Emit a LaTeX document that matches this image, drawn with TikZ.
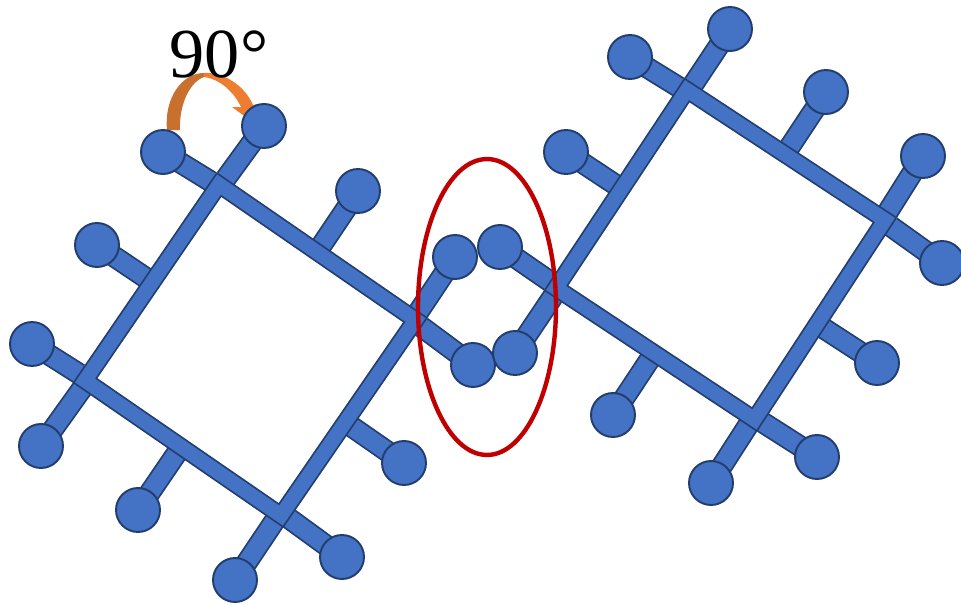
\documentclass[tikz,border=0pt]{standalone}
\usepackage{fontspec}
\setmainfont{Liberation Serif}
\usetikzlibrary{backgrounds,shapes.geometric}
\definecolor{ballblue}{HTML}{4472C4}
\definecolor{edgeblue}{HTML}{223E6E}
\definecolor{ringred}{HTML}{C00000}
\definecolor{arcorange}{HTML}{ED7D31}
\definecolor{arcbrown}{HTML}{C8702E}
\begin{document}
\begin{tikzpicture}[x=0.02cm, y=-0.02cm,
        roundnode/.style={circle, draw=edgeblue, fill=ballblue, line width=1.1pt, minimum size=0.88cm, inner sep=0pt},
        stubline/.style={draw=edgeblue, line width=1pt, double=ballblue, double distance=10.4pt, shorten <=-5pt},
        frameline/.style={draw=edgeblue, line width=1pt, double=ballblue, double distance=8.2pt, line join=miter},
        ]
                \useasboundingbox (0,0) rectangle (961,605);

                \node[roundnode]  at(163,152) (a1) {};
                \node[roundnode]  at(473,365) (a2) {};
                \node[roundnode]  at(264,126) (b1) {};
                \node[roundnode]  at(41,446) (b2) {};
                \node[roundnode]  at(32,344) (c1) {};
                \node[roundnode]  at(342,557) (c2) {};
                \node[roundnode]  at(455,257) (d1) {};
                \node[roundnode]  at(235,580) (d2) {};
                \node[roundnode]  at(358,191) (e1) {};
                \node[roundnode]  at(97,245) (e2) {};
                \node[roundnode]  at(138,510) (e3) {};
                \node[roundnode]  at(404,463) (e4) {};

                \node[roundnode]  at(630,57) (f1) {};
                \node[roundnode]  at(942,263) (f2) {};
                \node[roundnode]  at(730,29) (g1) {};
                \node[roundnode]  at(515,353) (g2) {};
                \node[roundnode]  at(500,247) (h1) {};
                \node[roundnode]  at(817,457) (h2) {};
                \node[roundnode]  at(923,156) (i1) {};
                \node[roundnode]  at(711,483) (i2) {};
                \node[roundnode]  at(826,92) (j1) {};
                \node[roundnode]  at(566,152) (j2) {};
                \node[roundnode]  at(613,415) (j3) {};
                \node[roundnode]  at(877,363) (j4) {};

                \coordinate (p1) at (219,184.5);
                \coordinate (p2) at (415.5,320);
                \coordinate (p3) at (85,380.5);
                \coordinate (p4) at (281,515.5);
                \coordinate (q1) at (687,90);
                \coordinate (q2) at (885,220);
                \coordinate (q3) at (556,288);
                \coordinate (q4) at (754.5,419.5);

                \coordinate (ta1) at (210.7,181.4);
                \coordinate (tb1) at (225.7,178.6);
                \coordinate (ta2) at (421.4,326.7);
                \coordinate (td1) at (418.6,311.7);
                \coordinate (tc1) at (79.1,373.8);
                \coordinate (tb2) at (81.9,388.8);
                \coordinate (tc2) at (289.3,518.6);
                \coordinate (td2) at (274.3,521.4);
                \coordinate (tf1) at (678.6,87);
                \coordinate (tg1) at (693.5,84);
                \coordinate (tf2) at (891,226.5);
                \coordinate (ti1) at (888,211.6);
                \coordinate (th1) at (550,281.5);
                \coordinate (tg2) at (553,296.4);
                \coordinate (th2) at (762.9,422.5);
                \coordinate (ti2) at (748,425.5);

                \coordinate (s1) at (317,252);
                \coordinate (s2) at (152,282);
                \coordinate (s3) at (181,447);
                \coordinate (s4) at (345,422);
                \coordinate (s5) at (785,154);
                \coordinate (s6) at (622,189);
                \coordinate (s7) at (654,353);
                \coordinate (s8) at (817,324);

                \node at(219,54) (lab) {\fontsize{40pt}{40pt}\selectfont 90°};
                \node[draw=ringred, line width=2.5pt, ellipse, minimum width=2.76cm, minimum height=5.92cm, inner sep=0pt] at(487,307) (ring) {};

                \begin{scope}[on background layer]
                \draw[stubline] (e1) -- (s1) ;
                \draw[stubline] (e2) -- (s2) ;
                \draw[stubline] (e3) -- (s3) ;
                \draw[stubline] (e4) -- (s4) ;
                \draw[stubline] (j1) -- (s5) ;
                \draw[stubline] (j2) -- (s6) ;
                \draw[stubline] (j3) -- (s7) ;
                \draw[stubline] (j4) -- (s8) ;

                \draw[stubline] (a1) -- (ta1) ;
                \draw[stubline] (b1) -- (tb1) ;
                \draw[stubline] (a2) -- (ta2) ;
                \draw[stubline] (d1) -- (td1) ;
                \draw[stubline] (b2) -- (tb2) ;
                \draw[stubline] (c1) -- (tc1) ;
                \draw[stubline] (c2) -- (tc2) ;
                \draw[stubline] (d2) -- (td2) ;

                \draw[stubline] (f1) -- (tf1) ;
                \draw[stubline] (g1) -- (tg1) ;
                \draw[stubline] (f2) -- (tf2) ;
                \draw[stubline] (i1) -- (ti1) ;
                \draw[stubline] (g2) -- (tg2) ;
                \draw[stubline] (h1) -- (th1) ;
                \draw[stubline] (h2) -- (th2) ;
                \draw[stubline] (i2) -- (ti2) ;

                \draw[frameline] (p1) -- (p2) -- (p4) -- (p3) -- cycle;
                \draw[frameline] (q1) -- (q2) -- (q4) -- (q3) -- cycle;

                \fill[arcbrown] (167,130) .. controls (164,98) and (182,73) .. (204,73)
                        -- (204,77) .. controls (190,82) and (179,104) .. (180,130) -- cycle;
                \fill[arcorange] (204,73) .. controls (224,72) and (245,86) .. (253,105)
                        -- (257,104) -- (247,118) -- (232,107) -- (241,107)
                        .. controls (234,92) and (220,79) .. (204,77) -- cycle;
                \end{scope}
            \end{tikzpicture}
\end{document}
